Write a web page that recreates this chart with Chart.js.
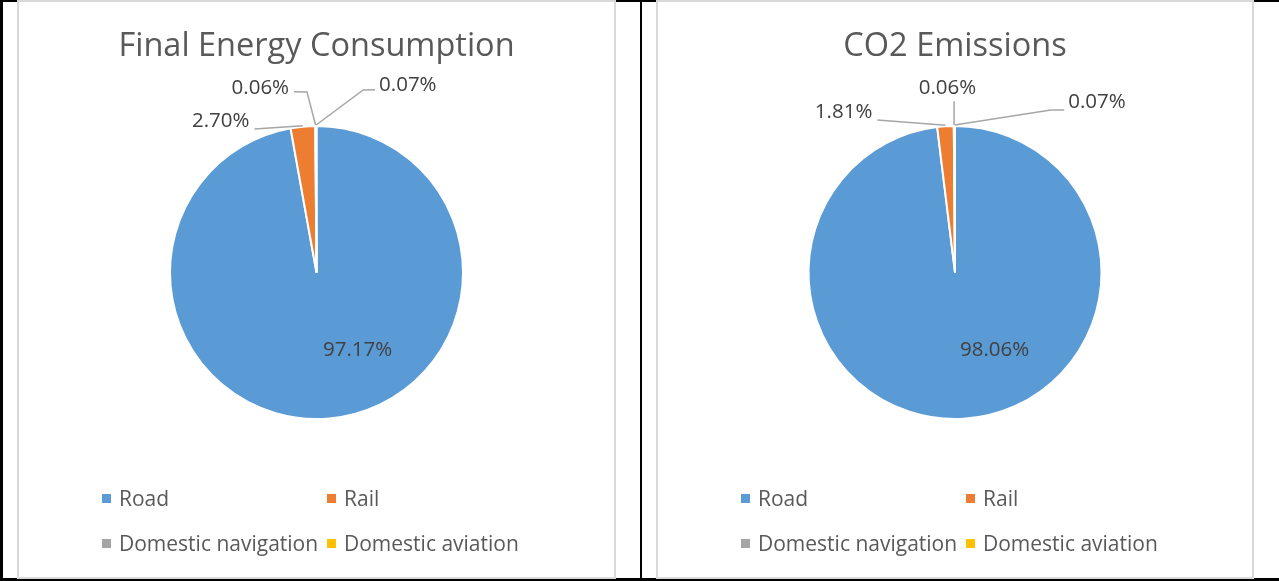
<!DOCTYPE html>
<html>
<head>
<meta charset="utf-8">
<script src="https://cdn.jsdelivr.net/npm/chart.js@4.4.0/dist/chart.umd.min.js"></script>
<style>
  html, body { margin: 0; padding: 0; background: #fff; }
  #page { position: relative; width: 1279px; height: 581px; overflow: hidden; font-family: "Open Sans", sans-serif; }
  .rule { position: absolute; background: #000; }
  .box { position: absolute; top: 0; height: 579px; border: 2px solid #d9d9d9; box-sizing: border-box; background: #fff; }
  .chart-wrap { position: absolute; left: 0; top: 0; right: 0; bottom: 0; }
  .legend-item { position: absolute; height: 26px; line-height: 26px; font-size: 21px; color: #595959; white-space: nowrap; }
  .legend-item i { position: absolute; left: 0; top: 9px; width: 9px; height: 9px; }
  .legend-item span { position: absolute; left: 17px; top: 0; }
</style>
</head>
<body>
<div id="page">
  <div class="rule" style="left:0;top:0;width:1279px;height:2px"></div>
  <div class="rule" style="left:0;top:0;width:3px;height:581px"></div>
  <div class="rule" style="left:640px;top:0;width:2px;height:581px"></div>
  <div class="rule" style="left:0;top:578px;width:1279px;height:3px"></div>

  <div class="box" id="box1" style="left:17px;width:599px">
    <div class="chart-wrap"><canvas id="energyChart"></canvas></div>
  </div>
  <div class="box" id="box2" style="left:656px;width:598px">
    <div class="chart-wrap"><canvas id="co2Chart"></canvas></div>
  </div>
</div>

<script>
// categories and values (percent shares)
const modes = ['Road', 'Rail', 'Domestic navigation', 'Domestic aviation'];
const energyShares = [97.17, 2.70, 0.06, 0.07];
const co2Shares = [98.06, 1.81, 0.06, 0.07];
const modeColors = ['#5b9bd5', '#ed7d31', '#a5a5a5', '#ffc000'];

// where each percentage label sits, relative to the pie centre (scaled by radius / 146)
const energyLabelPlaces = [
    { dx: 41, dy: 77 },
    { dx: -95.5, dy: -150.5, side: 'right', ady: 7.5 },
    { dx: -56, dy: -184, side: 'right', ady: 4, elbow: [-9.5, -180] },
    { dx: 91, dy: -187, side: 'left', ady: 5, elbow: [46.5, -182] }
];
const co2LabelPlaces = [
    { dx: 39.5, dy: 77 },
    { dx: -111, dy: -159.5, side: 'right', ady: 7.5 },
    { dx: -7.5, dy: -183.5, side: 'below' },
    { dx: 141.5, dy: -170, side: 'left', ady: 8, elbow: [95.5, -162] }
];

const FONT = '"Open Sans", sans-serif';

const sliceLabels = {
    id: 'sliceLabels',
    afterDatasetsDraw(chart, args, opts) {
        const ctx = chart.ctx;
        const meta = chart.getDatasetMeta(0);
        const values = chart.data.datasets[0].data;
        ctx.save();
        ctx.font = opts.size + 'px ' + FONT;
        ctx.textAlign = 'center';
        ctx.textBaseline = 'middle';
        meta.data.forEach((arc, i) => {
            const p = opts.places[i];
            const { x, y, startAngle, endAngle, outerRadius } =
                arc.getProps(['x', 'y', 'startAngle', 'endAngle', 'outerRadius'], true);
            const k = outerRadius / 146;
            const text = values[i].toFixed(2) + '%';
            const tx = x + p.dx * k;
            const ty = y + p.dy * k;
            const w = ctx.measureText(text).width;

            if (p.side) {
                const mid = (startAngle + endAngle) / 2;
                const ax = x + Math.cos(mid) * (outerRadius + 1);
                const ay = y + Math.sin(mid) * (outerRadius + 1);
                const pts = [[ax, ay]];
                if (p.elbow) pts.push([x + p.elbow[0] * k, y + p.elbow[1] * k]);
                if (p.side === 'right') pts.push([tx + w / 2 + 5, ty + p.ady]);
                else if (p.side === 'left') pts.push([tx - w / 2 - 4, ty + p.ady]);
                else pts.push([ax, ty + 13]);
                ctx.strokeStyle = '#a6a6a6';
                ctx.lineWidth = 1.5;
                ctx.beginPath();
                pts.forEach((pt, j) => j ? ctx.lineTo(pt[0], pt[1]) : ctx.moveTo(pt[0], pt[1]));
                ctx.stroke();
            }
            ctx.fillStyle = '#404040';
            ctx.fillText(text, tx, ty);
        });
        ctx.restore();
    }
};

function makePie(canvasId, boxId, title, shares, places) {
    new Chart(document.getElementById(canvasId), {
        type: 'pie',
        data: {
            labels: modes,
            datasets: [{
                data: shares,
                backgroundColor: modeColors,
                borderColor: '#ffffff',
                borderWidth: 2
            }]
        },
        options: {
            responsive: true,
            maintainAspectRatio: false,
            animation: false,
            layout: { padding: { top: 0, bottom: 157, left: 0, right: 0 } },
            plugins: {
                legend: { display: false },
                tooltip: { enabled: false },
                title: {
                    display: true,
                    text: title,
                    color: '#595959',
                    font: { family: FONT, size: 32.5, weight: 'normal', lineHeight: 1.2 },
                    padding: { top: 25.5, bottom: 58.5 }
                },
                sliceLabels: { places: places, size: 20.5 }
            }
        },
        plugins: [sliceLabels]
    });

    // two-column legend under the pie
    const box = document.getElementById(boxId);
    modes.forEach((m, i) => {
        const item = document.createElement('div');
        item.className = 'legend-item';
        item.style.left = (83 + (i % 2) * 225) + 'px';
        item.style.top = (483 + Math.floor(i / 2) * 45) + 'px';
        item.innerHTML = '<i style="background:' + modeColors[i] + '"></i><span>' + m + '</span>';
        box.appendChild(item);
    });
}

makePie('energyChart', 'box1', 'Final Energy Consumption', energyShares, energyLabelPlaces);
makePie('co2Chart', 'box2', 'CO2 Emissions', co2Shares, co2LabelPlaces);
</script>
</body>
</html>
